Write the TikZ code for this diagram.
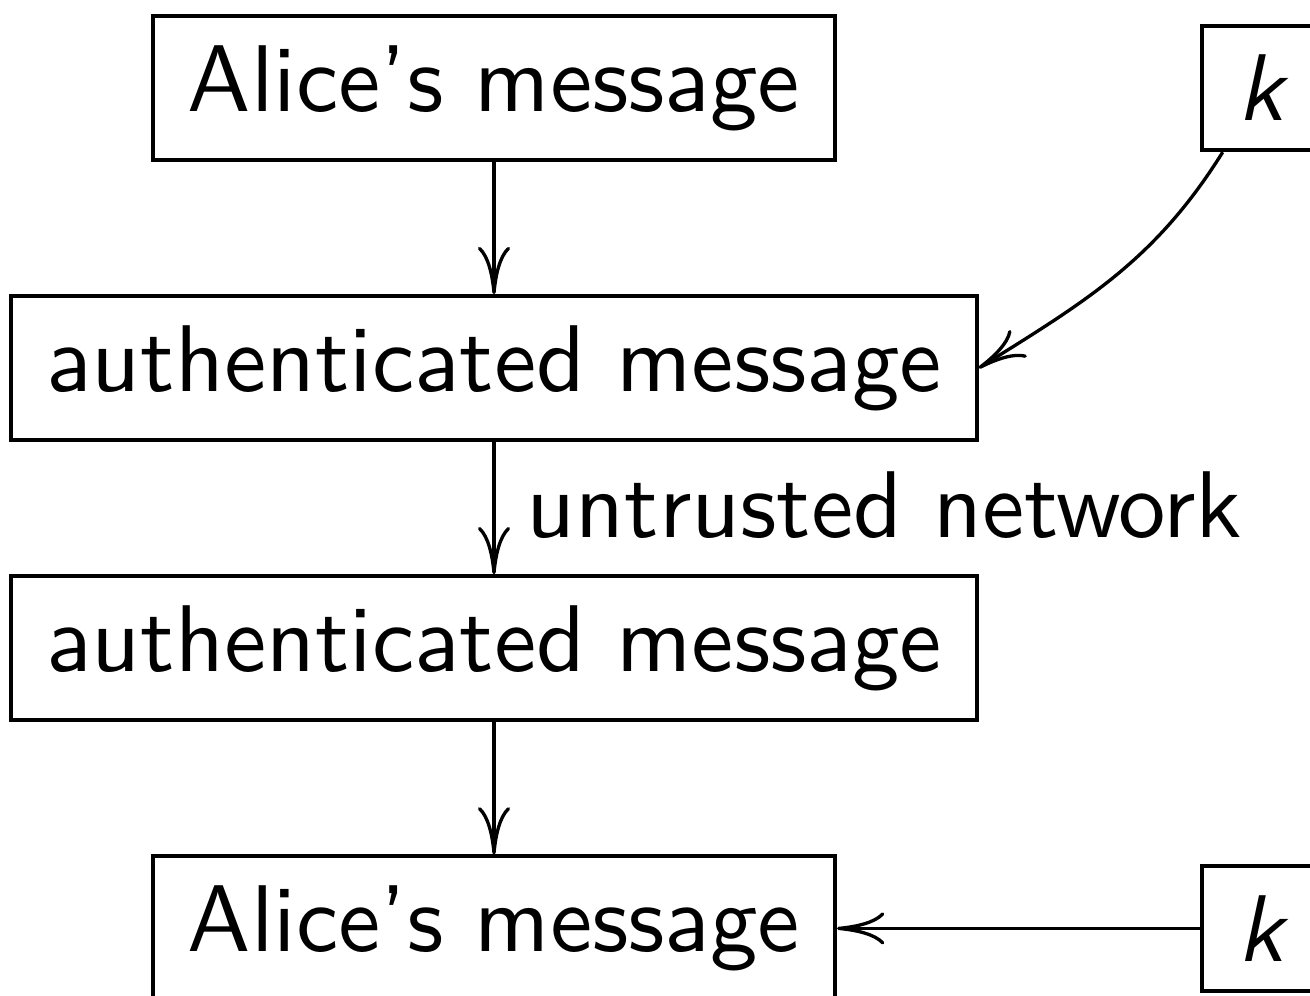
\documentclass[tikz,border=0pt]{standalone}
\usepackage{tikz}
\usetikzlibrary{arrows.meta,positioning}

\begin{document}
\begin{tikzpicture}[
  every node/.style={font=\sffamily},
  msgbox/.style={rectangle, draw, line width=0.4pt, inner xsep=3.7pt, inner ysep=3.1pt},
  arrow/.style={-{Computer Modern Rightarrow[length=5pt,width=3.4pt]}, line width=0.35pt},
  netlabel/.style={right, inner sep=3.3pt}
]
\useasboundingbox (0,0) rectangle (138.19pt,-105.06pt);

\node[msgbox] (alice) at (52.11pt,-9.28pt) {Alice's message};
\node[msgbox, below=13.95pt of alice] (authsent) {authenticated message};
\node[msgbox, below=13.95pt of authsent] (authrecv) {authenticated message};
\node[msgbox, below=13.95pt of authrecv] (bob) {Alice's message};
\node[msgbox, right=38.3pt of alice] (keytop) {\textit{k}};
\node[msgbox, right=38.3pt of bob] (keybot) {\textit{k}};

\draw[arrow] (alice) -- (authsent);
\draw[arrow] (authsent) -- node[netlabel, pos=0.48]{untrusted network} (authrecv);
\draw[arrow] (authrecv) -- (bob);
\draw[arrow] (keytop) to[out=238, in=32] (authsent.east);
\draw[arrow] (keybot) -- (bob);
\end{tikzpicture}
\end{document}
